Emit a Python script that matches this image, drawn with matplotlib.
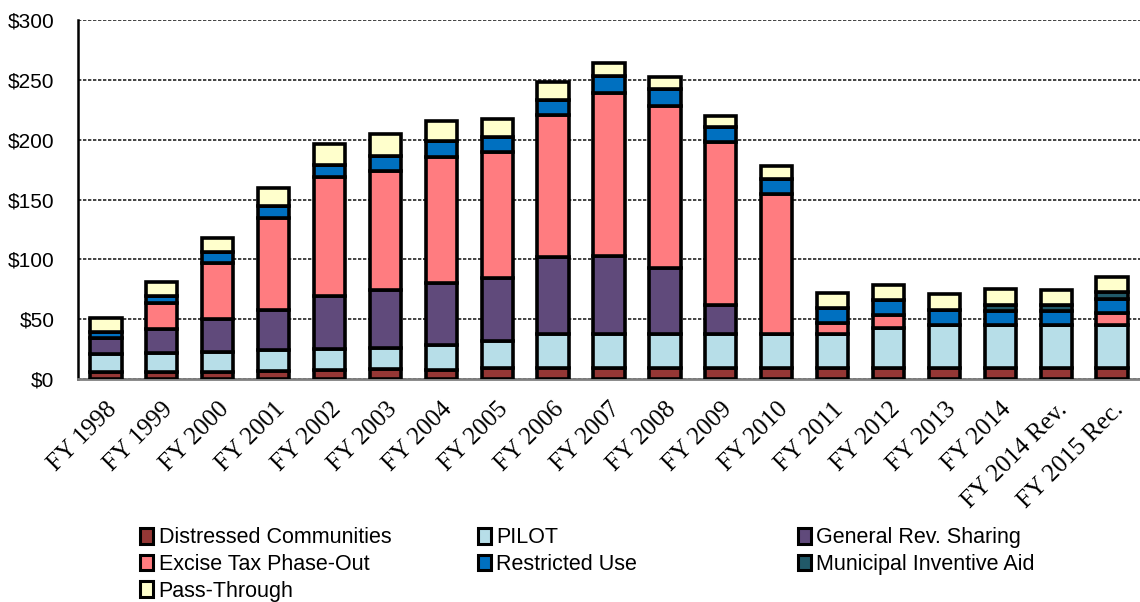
import matplotlib.pyplot as plt
import matplotlib.patches as mpatches
import numpy as np

years = ["FY 1998", "FY 1999", "FY 2000", "FY 2001", "FY 2002", "FY 2003", "FY 2004",
         "FY 2005", "FY 2006", "FY 2007", "FY 2008", "FY 2009", "FY 2010", "FY 2011",
         "FY 2012", "FY 2013", "FY 2014", "FY 2014 Rev.", "FY 2015 Rec."]

distressed = [5.6, 5.6, 5.6, 6.7, 7.5, 8.1, 7.5, 8.9, 9.5, 9.5, 9.5, 9.5, 9.5, 9.5, 9.5, 9.5, 9.5, 9.5, 9.5]
pilot = [15.0, 15.9, 16.7, 17.5, 17.6, 17.5, 20.9, 22.9, 27.8, 27.8, 27.8, 27.8, 27.8, 27.8, 33.4, 35.6, 35.6, 35.6, 35.6]
gen_rev = [13.4, 20.0, 27.8, 33.5, 44.3, 48.8, 52.1, 52.8, 64.9, 65.5, 55.2, 24.5, 0, 0, 0, 0, 0, 0, 0]
excise = [0, 21.7, 46.8, 76.6, 99.1, 99.7, 105.3, 104.8, 118.4, 135.9, 135.9, 136.5, 117.0, 9.2, 10.6, 0, 0, 0, 9.8]
restricted = [5.4, 6.4, 8.9, 10.5, 10.3, 12.5, 13.4, 12.6, 12.5, 14.8, 13.7, 12.5, 12.8, 12.6, 12.5, 12.6, 12.0, 11.8, 11.9]
municipal = [0, 0, 0, 0, 0, 0, 0, 0, 0, 0, 0, 0, 0, 0, 0, 0, 4.7, 4.9, 5.6]
pass_through = [11.2, 11.2, 12.3, 14.5, 17.6, 18.1, 16.7, 15.3, 15.3, 10.3, 10.5, 9.2, 11.1, 12.5, 12.5, 13.3, 13.4, 12.6, 12.6]

series = [
    ("Distressed Communities", distressed, "#953735"),
    ("PILOT", pilot, "#B7DEE8"),
    ("General Rev. Sharing", gen_rev, "#604A7B"),
    ("Excise Tax Phase-Out", excise, "#FF7C80"),
    ("Restricted Use", restricted, "#0070C0"),
    ("Municipal Inventive Aid", municipal, "#215968"),
    ("Pass-Through", pass_through, "#FFFFCC"),
]

fig = plt.figure(figsize=(11.4, 6.02), dpi=100)
ax = fig.add_axes([0.0684, 0.3704, 0.9316, 0.5963])

x = np.arange(len(years))
bottom = np.zeros(len(years))
handles = {}
for name, vals, color in series:
    vals = np.array(vals, dtype=float)
    ax.bar(x, vals, 0.56, bottom=bottom, color=color, edgecolor="black", linewidth=2.6, zorder=3)
    handles[name] = mpatches.Patch(facecolor=color, edgecolor="black", linewidth=2.2, label=name)
    bottom += vals

ax.set_xlim(-0.5, len(years) - 0.5)
ax.set_ylim(0, 300)
ax.set_yticks(range(0, 301, 50))
ax.set_yticklabels(["$%d" % v for v in range(0, 301, 50)], fontsize=15, family="Liberation Sans")
ax.tick_params(axis="y", length=0, pad=17)
ax.tick_params(axis="x", length=0, pad=14)
ax.set_xticks(x)
ax.set_xticklabels(years, rotation=45, ha="right", va="top", rotation_mode="anchor",
                   fontsize=18, family="Liberation Serif")

ax.yaxis.grid(True, linestyle=(0, (2, 1)), color="#222222", linewidth=1.2, zorder=0)
ax.set_axisbelow(True)
for s in ["top", "right"]:
    ax.spines[s].set_visible(False)
ax.spines["left"].set_linewidth(1.8)
ax.spines["bottom"].set_color("#808080")
ax.spines["bottom"].set_linewidth(2)

cols = [
    (["Distressed Communities", "Excise Tax Phase-Out", "Pass-Through"], 0.123),
    (["PILOT", "Restricted Use"], 0.419),
    (["General Rev. Sharing", "Municipal Inventive Aid"], 0.700),
]
for names, xpos in cols:
    fig.legend(handles=[handles[n] for n in names], loc="upper left", bbox_to_anchor=(xpos, 0.124),
               frameon=False, borderpad=0, borderaxespad=0, handlelength=0.6, handleheight=0.75,
               handletextpad=0.25, labelspacing=0.26, prop={"family": "Liberation Sans", "size": 15.5})

fig.savefig("out.png", dpi=100)
